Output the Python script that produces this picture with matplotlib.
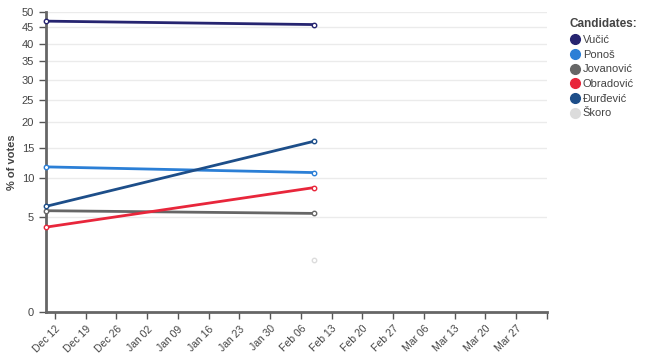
import numpy as np
import matplotlib
matplotlib.use("Agg")
import matplotlib.pyplot as plt
import matplotlib.dates as mdates
from datetime import datetime

plt.rcParams['font.family'] = ['Liberation Sans', 'DejaVu Sans']

# poll dates and values (% of votes)
dates = [datetime(2021, 12, 10), datetime(2022, 2, 9)]
candidates = ["Vučić", "Ponoš", "Jovanović", "Obradović", "Đurđević", "Škoro"]
vucic = [47.0, 45.9]
ponos = [11.7, 10.8]
jovanovic = [5.7, 5.4]
obradovic = [4.0, 8.6]
djurdjevic = [6.2, 16.2]
skoro = [None, 1.5]
colors = ["#262470", "#2b7fd6", "#666666", "#e8263b", "#1d4e89", "#dcdcdc"]

series = [vucic, ponos, jovanovic, obradovic, djurdjevic, skoro]

fig = plt.figure(figsize=(6.45, 3.59), dpi=100)
ax = fig.add_axes([46 / 645, 47 / 359, (547 - 46) / 645, (312 - 12) / 359])
ax.set_yscale('function', functions=(lambda v: np.sqrt(np.clip(v, 0, None)), np.square))

for name, vals, c in zip(candidates, series, colors):
    xs = [d for d, v in zip(dates, vals) if v is not None]
    ys = [v for v in vals if v is not None]
    ax.plot(xs, ys, color=c, lw=2, marker='o', ms=3.2, mfc='white', mec=c, mew=1,
            label=name, zorder=3, clip_on=False)

ax.set_ylim(0, 50)
ax.set_yticks(np.arange(0, 51, 5))
ax.set_xlim(datetime(2021, 12, 10), datetime(2022, 4, 3))
weeks = mdates.drange(datetime(2021, 12, 12), datetime(2022, 3, 28), np.timedelta64(7, 'D').astype(object))
ax.set_xticks(weeks)
ax.xaxis.set_major_formatter(mdates.DateFormatter('%b %d'))
ax.set_xticks([mdates.date2num(datetime(2022, 4, 3))], minor=True)
ax.tick_params(axis='x', which='minor', length=5, width=1, color='#555555')
for lab in ax.get_xticklabels():
    lab.set_rotation(45)
    lab.set_ha('right')
    lab.set_rotation_mode('anchor')

ax.grid(axis='y', color='#ebebeb', lw=1)
ax.set_axisbelow(True)
for s in ['top', 'right']:
    ax.spines[s].set_visible(False)
for s in ['left', 'bottom']:
    ax.spines[s].set_color('#666666')
    ax.spines[s].set_linewidth(2)
ax.tick_params(colors='#555555', labelsize=8, length=5, width=1)
ax.tick_params(axis='y', labelcolor='#444444')
ax.tick_params(axis='x', labelcolor='#444444', labelsize=7.5)
ax.set_ylabel('% of votes', fontsize=8, color='#444444', fontweight='bold')
ax.yaxis.set_label_coords(-29 / 501, 0.5)

handles = [plt.Line2D([], [], ls='', marker='o', ms=7, color=c) for c in colors]
leg = fig.legend(handles, candidates, loc='upper left', bbox_to_anchor=(565 / 645, 1 - 14 / 359),
                 frameon=False, title='Candidates:', fontsize=8, handletextpad=0.2,
                 labelspacing=0.42, borderaxespad=0, handlelength=1.0)
leg.get_title().set_fontweight('bold')
leg.get_title().set_fontsize(8.5)
leg.get_title().set_color('#444444')
leg._legend_box.align = 'left'
for t in leg.get_texts():
    t.set_color('#444444')

fig.savefig('out.png', dpi=100)
